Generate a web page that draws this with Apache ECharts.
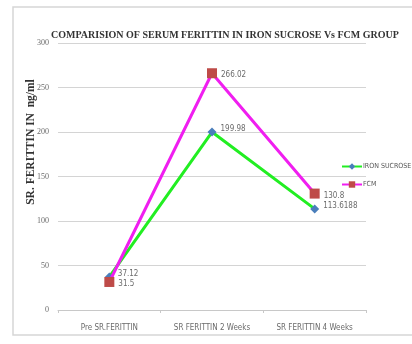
<!DOCTYPE html>
<html>
<head>
<meta charset="utf-8">
<script src="https://cdn.jsdelivr.net/npm/echarts@6/dist/echarts.min.js"></script>
<style>
  html, body { margin: 0; padding: 0; background: #fff; }
  #chart { width: 412px; height: 344px; }
</style>
</head>
<body>
<div id="chart"></div>
<script>
// Serum ferritin (ng/ml) over time for the two treatment groups
const categories = ['Pre SR.FERITTIN', 'SR FERITTIN 2 Weeks', 'SR FERITTIN 4 Weeks'];
const ironSucrose = [37.12, 199.98, 113.6188];
const fcm = [31.5, 266.02, 130.8];
const seriesNames = ['IRON SUCROSE', 'FCM'];
const yTicks = { min: 0, max: 300, interval: 50 };

const narrowFont = 'DejaVu Sans Condensed, Liberation Sans Narrow, Liberation Sans, sans-serif';

const chart = echarts.init(document.getElementById('chart'), null, { renderer: 'canvas' });

const labelStyle = {
  show: true,
  position: 'right',
  distance: 4,
  color: '#6b6b6b',
  fontSize: 8,
  fontFamily: narrowFont
};

chart.setOption({
  animation: false,
  backgroundColor: '#ffffff',
  title: {
    text: 'COMPARISION OF SERUM FERITTIN IN IRON SUCROSE Vs FCM GROUP',
    left: 46,
    top: 25,
    textStyle: {
      fontFamily: 'Liberation Serif, serif',
      fontWeight: 'bold',
      fontSize: 10,
      color: '#333333'
    }
  },
  graphic: [
    {
      type: 'rect',
      shape: { x: 13, y: 7, width: 420, height: 328 },
      style: { fill: 'none', stroke: '#d6d6d6', lineWidth: 1.5 },
      silent: true,
      z: -1
    },
    {
      type: 'text',
      x: 31,
      y: 142,
      rotation: Math.PI / 2,
      style: {
        text: 'SR. FERITTIN IN  ng/ml',
        fontFamily: 'Liberation Serif, serif',
        fontWeight: 'bold',
        fontSize: 11.5,
        fill: '#333333',
        align: 'center',
        verticalAlign: 'middle'
      }
    }
  ],
  legend: {
    orient: 'vertical',
    left: 336,
    top: 158,
    itemWidth: 20,
    itemHeight: 8,
    itemGap: 11,
    textStyle: {
      fontSize: 7,
      color: '#555555',
      fontFamily: narrowFont,
      padding: [0, 0, 0, -4]
    },
    data: seriesNames
  },
  grid: { left: 58, right: 46, top: 43, bottom: 34 },
  xAxis: {
    type: 'category',
    data: categories,
    boundaryGap: true,
    axisLine: { lineStyle: { color: '#c8c8c8' } },
    axisTick: { show: true, alignWithLabel: false, length: 3, lineStyle: { color: '#c8c8c8' } },
    axisLabel: {
      interval: 0,
      color: '#6b6b6b',
      fontSize: 8,
      margin: 14,
      fontFamily: narrowFont
    }
  },
  yAxis: {
    type: 'value',
    min: yTicks.min,
    max: yTicks.max,
    interval: yTicks.interval,
    axisLine: { show: false },
    axisTick: { show: false },
    splitLine: { lineStyle: { color: '#d4d4d4', width: 1 } },
    axisLabel: {
      color: '#6b6b6b',
      fontSize: 8,
      margin: 9,
      fontFamily: 'Liberation Serif, serif'
    }
  },
  series: [
    {
      name: seriesNames[0],
      type: 'line',
      data: ironSucrose,
      symbol: 'diamond',
      symbolSize: 9,
      lineStyle: { color: '#22ee22', width: 3 },
      itemStyle: { color: '#4a7ebb' },
      label: Object.assign({}, labelStyle, { offset: [0, -3] }),
      z: 2
    },
    {
      name: seriesNames[1],
      type: 'line',
      data: fcm,
      symbol: 'rect',
      symbolSize: 10,
      lineStyle: { color: '#f01ef0', width: 3 },
      itemStyle: { color: '#be4b48' },
      label: Object.assign({}, labelStyle, { offset: [0, 2] }),
      z: 3
    }
  ]
});
</script>
</body>
</html>
